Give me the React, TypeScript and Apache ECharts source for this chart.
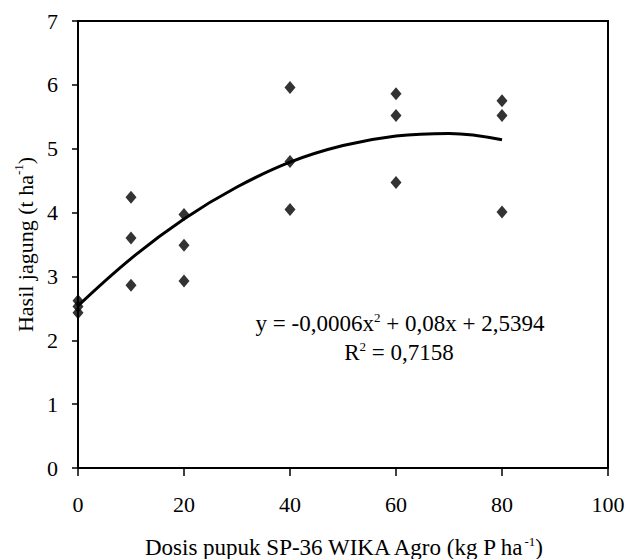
import React, { useEffect, useRef } from "react";
import * as echarts from "echarts";

const doses = [0, 0, 0, 10, 10, 10, 20, 20, 20, 40, 40, 40, 60, 60, 60, 80, 80, 80];
const yields = [2.62, 2.53, 2.43, 4.24, 3.6, 2.86, 3.97, 3.49, 2.93, 5.96, 4.8, 4.05, 5.86, 5.52, 4.47, 5.75, 5.52, 4.01];

const trendX = [0, 10, 20, 30, 40, 50, 60, 70, 80];
const trendY = [2.54, 3.28, 3.9, 4.4, 4.79, 5.05, 5.2, 5.24, 5.14];

const xTicks = [0, 20, 40, 60, 80, 100];
const yTicks = [0, 1, 2, 3, 4, 5, 6, 7];

const FONT = "'Liberation Serif', 'Times New Roman', serif";
const FS = 22;

function supRich(size: number) {
  return {
    n: { fontFamily: FONT, fontSize: size, color: "#000", lineHeight: 24, verticalAlign: "bottom" },
    s: { fontFamily: FONT, fontSize: 13, color: "#000", lineHeight: 14, verticalAlign: "top" },
  };
}

export default function App() {
  const ref = useRef<HTMLDivElement>(null);
  useEffect(() => {
    if (!ref.current) return;
    const chart = echarts.init(ref.current, null, { renderer: "svg" });
    chart.setOption({
      animation: false,
      backgroundColor: "#fff",
      grid: {
        left: 78,
        right: 20,
        top: 21,
        bottom: 91,
        outerBoundsMode: "none",
        containLabel: false,
        show: true,
        borderColor: "#000",
        borderWidth: 2,
        backgroundColor: "transparent",
      },
      xAxis: {
        type: "value",
        min: xTicks[0],
        max: xTicks[xTicks.length - 1],
        interval: 20,
        name: "{n|Dosis pupuk SP-36 WIKA Agro (kg P ha}{s|-1}{n|)}",
        nameLocation: "middle",
        nameGap: 67,
        nameTextStyle: { rich: supRich(23) },
        axisLine: { show: true, lineStyle: { color: "#000", width: 2 } },
        axisTick: { show: true, length: 8, lineStyle: { color: "#000", width: 1.5 } },
        axisLabel: { fontFamily: FONT, fontSize: FS, color: "#000", margin: 25 },
        splitLine: { show: false },
      },
      yAxis: {
        type: "value",
        min: yTicks[0],
        max: yTicks[yTicks.length - 1],
        interval: 1,
        name: "{n|Hasil jagung (t ha}{s|-1}{n|)}",
        nameLocation: "middle",
        nameGap: 40,
        nameTextStyle: { rich: supRich(22) },
        axisLine: { show: true, lineStyle: { color: "#000", width: 2 } },
        axisTick: { show: true, length: 6, lineStyle: { color: "#000", width: 1.5 } },
        axisLabel: { fontFamily: FONT, fontSize: FS, color: "#000", margin: 20 },
        splitLine: { show: false },
      },
      graphic: [
        {
          type: "text",
          x: 400,
          y: 323,
          style: {
            text: "{n|y = -0,0006x}{s|2}{n| + 0,08x + 2,5394}",
            align: "center",
            verticalAlign: "middle",
            rich: supRich(23),
          },
        },
        {
          type: "text",
          x: 399,
          y: 352,
          style: {
            text: "{n|R}{s|2}{n| = 0,7158}",
            align: "center",
            verticalAlign: "middle",
            rich: supRich(23),
          },
        },
      ],
      series: [
        {
          type: "line",
          data: trendX.map((x, i) => [x, trendY[i]]),
          smooth: 0.4,
          showSymbol: false,
          lineStyle: { color: "#000", width: 3 },
          z: 2,
        },
        {
          type: "scatter",
          data: doses.map((x, i) => [x, yields[i]]),
          symbol: "diamond",
          symbolSize: [11, 13],
          itemStyle: { color: "#000" },
          z: 3,
        },
      ],
    });
    return () => chart.dispose();
  }, []);
  return <div ref={ref} style={{ width: 628, height: 559, position: "absolute", left: 0, top: 0 }} />;
}
